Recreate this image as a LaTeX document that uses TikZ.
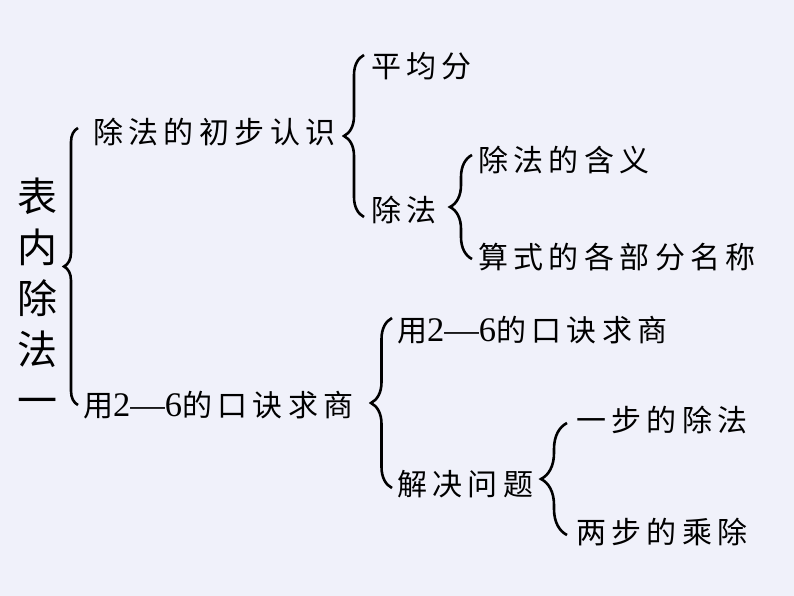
\documentclass[tikz,border=0pt]{standalone}
\usepackage{fontspec}
\newfontfamily\cjk[LetterSpace=18]{Noto Sans CJK SC}
\newfontfamily\numfont[Scale=1.15]{Liberation Serif}
\usetikzlibrary{decorations.pathreplacing}
\definecolor{bgcolor}{RGB}{240,241,250}
\def \ItemSize {30}
\tikzstyle{topic}=[
  inner sep=0,
  anchor=west,
  font=\cjk\fontsize{\ItemSize}{36}\selectfont
]
\tikzstyle{title}=[
  inner sep=0,
  align=center,
  font=\cjk\fontsize{40}{51}\selectfont
]
\tikzset{curly/.style={decorate, decoration={brace, amplitude=#1}, line width=2.6pt}}

\begin{document}
\begin{tikzpicture}[x=1pt, y=-1pt]
          \fill[bgcolor] (0,0) rectangle (794,596);

          \node[title] (t) at (37,297) {表\\内\\除\\法\\一};

          \node[topic] (a1) at (93,132) {除法的初步认识};
          \node[topic] (a2) at (83,405) {用{\numfont 2—6}的口诀求商};

          \node[topic] (b1) at (371,66) {平均分};
          \node[topic] (b2) at (371,210) {除法};

          \node[topic] (c1) at (478,160) {除法的含义};
          \node[topic] (c2) at (478,257) {算式的各部分名称};

          \node[topic] (d1) at (397,330) {用{\numfont 2—6}的口诀求商};
          \node[topic] (d2) at (397,484) {解决问题};

          \node[topic] (e1) at (576,420) {一步的除法};
          \node[topic] (e2) at (576,532) {两步的乘除};

          % braces, drawn bottom to top
          \draw[curly=14] ([shift={(-5,0)}]a2.west) -- ([shift={(-15,-4)}]a1.west);
          \draw[curly=20] ([shift={(-7,7)}]b2.west) -- ([shift={(-7,-11)}]b1.west);
          \draw[curly=22] ([shift={(-6,2)}]c2.west) -- ([shift={(-6,-5)}]c1.west);
          \draw[curly=21] ([shift={(-5,4)}]d2.west) -- ([shift={(-5,-12)}]d1.west);
          \draw[curly=26] ([shift={(-9,3)}]e2.west) -- ([shift={(-9,3)}]e1.west);
        \end{tikzpicture}
\end{document}
